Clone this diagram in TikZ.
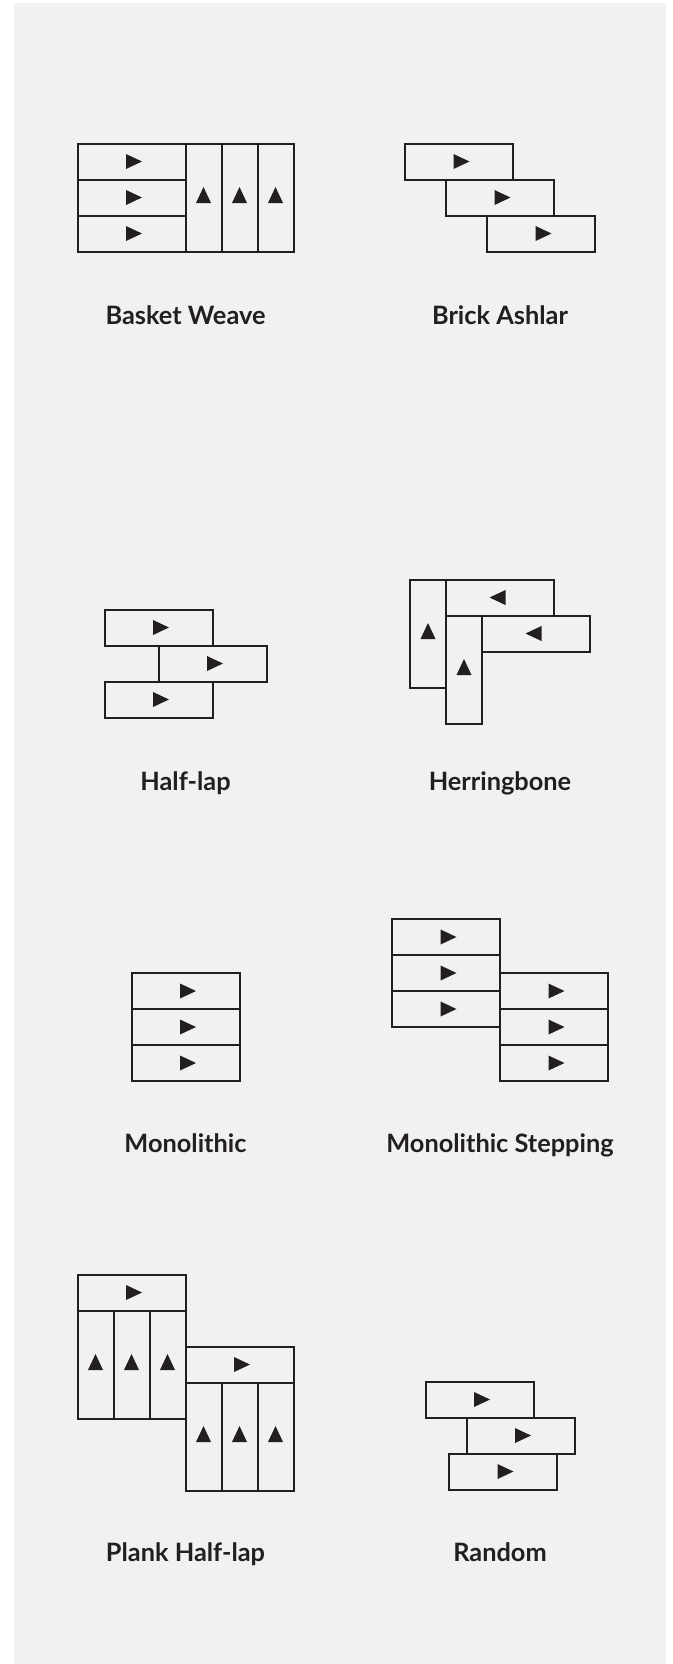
\documentclass[tikz,border=0pt]{standalone}
\usepackage{fontspec}
\setmainfont{Lato}
\usetikzlibrary{positioning}
\definecolor{panelgray}{HTML}{F1F1F1}
\definecolor{ink}{HTML}{231F20}
\begin{document}
\begin{tikzpicture}[x=0.75pt,y=-0.75pt,
    board/.style={draw=ink, line width=1.5pt, inner sep=0pt, outer sep=0pt},
    hboard/.style={board, minimum width=81pt, minimum height=27pt},
    vboard/.style={board, minimum width=27pt, minimum height=81pt},
    title/.style={anchor=base, text=ink, font=\fontsize{19}{22}\selectfont\bfseries},
    tri/.pic={\fill[ink] (-5.5,-7.5) -- (10.5,0) -- (-5.5,7.5) -- cycle;}]

\fill[white] (0,0) rectangle (672,1664);
\fill[panelgray] (14,3) rectangle (666,1664);

% basket weave
\node[hboard] (bw1) at (131.5,161.5) {};
\node[hboard, below=0pt of bw1] (bw2) {};
\node[hboard, below=0pt of bw2] (bw3) {};
\node[vboard, anchor=north west] (bw4) at (bw1.north east) {};
\node[vboard, right=0pt of bw4] (bw5) {};
\node[vboard, right=0pt of bw5] (bw6) {};
\foreach \b in {bw1,bw2,bw3} \pic at (\b) {tri};
\foreach \b in {bw4,bw5,bw6} \pic[rotate=90] at (\b) {tri};
\node[title] (bwname) at (185.5,324) {Basket Weave};

% brick ashlar
\node[hboard] (ba1) at (459,161.5) {};
\node[hboard] (ba2) at (500,197.5) {};
\node[hboard] (ba3) at (541,233.5) {};
\foreach \b in {ba1,ba2,ba3} \pic at (\b) {tri};
\node[title] (baname) at (500,324) {Brick Ashlar};

% half-lap
\node[hboard] (hl1) at (158.5,627.5) {};
\node[hboard] (hl2) at (212.5,663.5) {};
\node[hboard] (hl3) at (158.5,699.5) {};
\foreach \b in {hl1,hl2,hl3} \pic at (\b) {tri};
\node[title] (hlname) at (185.5,790.5) {Half-lap};

% herringbone
\node[vboard] (hb1) at (428,633.5) {};
\node[hboard, anchor=north west] (hb2) at (hb1.north east) {};
\node[vboard, anchor=north west] (hb3) at (hb2.south west) {};
\node[hboard, anchor=north west] (hb4) at (hb3.north east) {};
\foreach \b in {hb1,hb3} \pic[rotate=90] at (\b) {tri};
\foreach \b in {hb2,hb4} \pic[rotate=180] at (\b) {tri};
\node[title] (hbname) at (500,790.5) {Herringbone};

% monolithic
\node[hboard] (mo1) at (185.5,991) {};
\node[hboard, below=0pt of mo1] (mo2) {};
\node[hboard, below=0pt of mo2] (mo3) {};
\foreach \b in {mo1,mo2,mo3} \pic at (\b) {tri};
\node[title] (moname) at (185.5,1152.5) {Monolithic};

% monolithic stepping
\node[hboard] (ms1) at (446,937) {};
\node[hboard, below=0pt of ms1] (ms2) {};
\node[hboard, below=0pt of ms2] (ms3) {};
\node[hboard] (ms4) at (554,991) {};
\node[hboard, below=0pt of ms4] (ms5) {};
\node[hboard, below=0pt of ms5] (ms6) {};
\foreach \b in {ms1,ms2,ms3,ms4,ms5,ms6} \pic at (\b) {tri};
\node[title] (msname) at (500,1152.5) {Monolithic Stepping};

% plank half-lap
\node[hboard] (ph1) at (131.5,1292.5) {};
\node[vboard, anchor=north west] (ph2) at (ph1.south west) {};
\node[vboard, right=0pt of ph2] (ph3) {};
\node[vboard, right=0pt of ph3] (ph4) {};
\node[hboard] (ph5) at (239.5,1364.5) {};
\node[vboard, anchor=north west] (ph6) at (ph5.south west) {};
\node[vboard, right=0pt of ph6] (ph7) {};
\node[vboard, right=0pt of ph7] (ph8) {};
\foreach \b in {ph1,ph5} \pic at (\b) {tri};
\foreach \b in {ph2,ph3,ph4,ph6,ph7,ph8} \pic[rotate=90] at (\b) {tri};
\node[title] (phname) at (185.5,1561.5) {Plank Half-lap};

% random
\node[hboard] (rd1) at (479.5,1399.5) {};
\node[hboard] (rd2) at (520.5,1435.5) {};
\node[hboard] (rd3) at (503,1471.5) {};
\foreach \b in {rd1,rd2,rd3} \pic at (\b) {tri};
\node[title] (rdname) at (500,1561.5) {Random};

\end{tikzpicture}
\end{document}
